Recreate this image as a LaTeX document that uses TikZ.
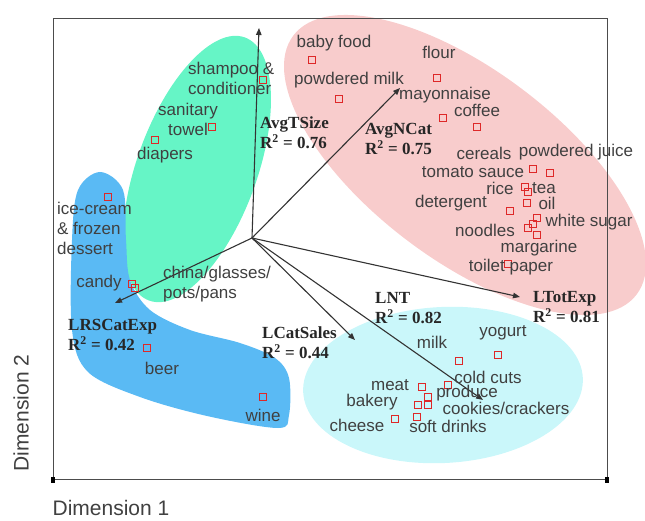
\documentclass[tikz,border=0pt]{standalone}
\usepackage{fontspec}
\newfontfamily\arialf{Liberation Sans}
\newfontfamily\timesf{Liberation Serif}
\usetikzlibrary{arrows.meta}
\definecolor{pink1}{RGB}{248,204,204}
\definecolor{mint1}{RGB}{102,245,198}
\definecolor{blue1}{RGB}{90,186,244}
\definecolor{cyan1}{RGB}{202,247,250}
\definecolor{red1}{RGB}{222,40,40}
\definecolor{gray1}{RGB}{64,64,64}

\begin{document}
\begin{tikzpicture}[x=1pt, y=-1pt,
  item/.style={font=\arialf\fontsize{17}{20}\selectfont, text=gray1, inner sep=0pt, align=center},
  var/.style={font=\timesf\bfseries\fontsize{17}{20}\selectfont, text=black!85, inner sep=0pt, align=left, anchor=west},
  sq/.style={draw=red1, line width=0.7pt, minimum size=7pt, inner sep=0pt},
  arr/.style={-{Triangle[length=7pt, width=5.5pt]}, line width=1.1pt, draw=black!80}]
  \useasboundingbox (0,0) rectangle (645,521);

  \fill[pink1, shift={(465,165)}, rotate=-37] (0,0) ellipse [x radius=215pt, y radius=95pt];
  \fill[cyan1, shift={(443,385)}, rotate=3] (0,0) ellipse [x radius=140pt, y radius=78pt];
  \fill[mint1, shift={(197,169)}, rotate=70] (0,0) ellipse [x radius=140pt, y radius=60pt];
  \fill[blue1] plot[smooth cycle, tension=0.55] coordinates {(100,172) (78,190) (72,240) (72,330) (88,372) (140,397) (207,416) (278,428) (289,415) (289,378) (275,358) (240,343) (190,330) (150,310) (130,280) (126,240) (123,190)};

  \draw[black!70, line width=0.8pt] (53,18) rectangle (607,479);
  \fill[black] (50.5,477) rectangle (54.5,483);
  \fill[black] (605,477) rectangle (609,483);

  \coordinate (o) at (252,238);
  \coordinate (tTSize) at (259,28);
  \coordinate (tNCat) at (400,88);
  \coordinate (tTot) at (520,297);
  \coordinate (tNT) at (483,400);
  \coordinate (tCat) at (355,340);
  \coordinate (tRS) at (115,303);
  \foreach \t in {tTSize,tNCat,tTot,tNT,tCat,tRS}
    \draw[arr] (o) -- (\t);

  \foreach \x/\y [count=\i] in {312/60, 437/78, 339/99, 443/118, 477/127, 533/169, 550/173, 525/187, 528/192, 527/203, 510/211, 537/218, 533/224, 528/228, 537/235, 508/264,
      263/80, 212/127, 155/140,
      108/197, 132/284, 135/288, 147/348, 263/397,
      498/355, 459/361, 422/387, 448/385, 428/397, 418/405, 428/405, 395/419, 417/417}
    \node[sq] (sq\i) at (\x,\y) {};

  \node[item] (babyfood) at (334,43) {baby food};
  \node[item] (flour) at (439,52) {flour};
  \node[item] (pmilk) at (349,80) {powdered milk};
  \node[item] (mayo) at (445,95) {mayonnaise};
  \node[item] (coffee) at (477,110) {coffee};
  \node[item] (cereals) at (484,153) {cereals};
  \node[item] (pjuice) at (576,152) {powdered juice};
  \node[item] (tomato) at (473,172) {tomato sauce};
  \node[item] (rice) at (500,188) {rice};
  \node[item] (tea) at (544,188) {tea};
  \node[item] (deterg) at (451,203) {detergent};
  \node[item] (oil) at (547,203) {oil};
  \node[item] (sugar) at (589,222) {white sugar};
  \node[item] (noodles) at (485,230) {noodles};
  \node[item] (marg) at (539,248) {margarine};
  \node[item] (toilet) at (511,267) {toilet paper};

  \node[item, align=left, anchor=west] (shampoo) at (188,78) {shampoo \&\\conditioner};
  \node[item] (towel) at (188,119) {sanitary\\towel};
  \node[item] (diapers) at (165,155) {diapers};

  \node[item, align=left, anchor=west] (icecream) at (57,228) {ice-cream\\\& frozen\\dessert};
  \node[item] (candy) at (99,283) {candy};
  \node[item, align=left, anchor=west] (china) at (163,284) {china/glasses/\\pots/pans};
  \node[item] (beer) at (162,368) {beer};
  \node[item] (wine) at (263,415) {wine};

  \node[item] (milk) at (432,342) {milk};
  \node[item] (yogurt) at (503,333) {yogurt};
  \node[item] (coldcuts) at (488,377) {cold cuts};
  \node[item] (meat) at (390,385) {meat};
  \node[item] (produce) at (467,393) {produce};
  \node[item] (bakery) at (372,402) {bakery};
  \node[item] (cookies) at (506,408) {cookies/crackers};
  \node[item] (cheese) at (357,425) {cheese};
  \node[item] (soft) at (448,426) {soft drinks};

  \node[var] (vTSize) at (260,133) {AvgTSize\\R\textsuperscript{2} = 0.76};
  \node[var] (vNCat) at (365,139) {AvgNCat\\R\textsuperscript{2} = 0.75};
  \node[var] (vRS) at (68,335) {LRSCatExp\\R\textsuperscript{2} = 0.42};
  \node[var] (vCat) at (262,343) {LCatSales\\R\textsuperscript{2} = 0.44};
  \node[var] (vNT) at (375,308) {LNT\\R\textsuperscript{2} = 0.82};
  \node[var] (vTot) at (533,307) {LTotExp\\R\textsuperscript{2} = 0.81};

  \node[item, font=\arialf\fontsize{21}{24}\selectfont, rotate=90] (dim2) at (21,413) {Dimension 2};
  \node[item, font=\arialf\fontsize{21}{24}\selectfont] (dim1) at (111,508) {Dimension 1};
\end{tikzpicture}
\end{document}
